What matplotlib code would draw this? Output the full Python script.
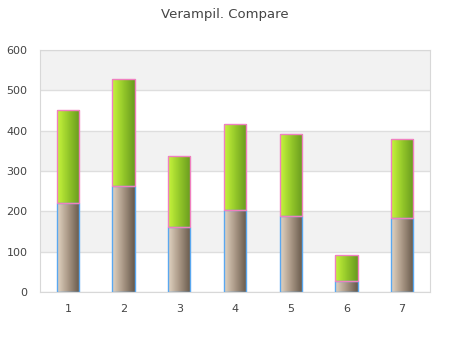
import matplotlib.pyplot as plt
import numpy as np
from matplotlib.colors import LinearSegmentedColormap

# data
categories = ['1', '2', '3', '4', '5', '6', '7']
base = [220, 263, 160, 203, 188, 27, 183]
extra = [230, 266, 178, 213, 203, 64, 197]
yticks = [0, 100, 200, 300, 400, 500, 600]

base_cmap = LinearSegmentedColormap.from_list('base', ['#e2d4c2', '#a89684', '#66584a'])
extra_cmap = LinearSegmentedColormap.from_list('extra', ['#c8f53c', '#94c82a', '#689a1e'])
grad = np.linspace(0, 1, 64).reshape(1, -1)


def gradient_bars(ax, bars, cmap):
    for p in bars:
        x0, y0 = p.get_x(), p.get_y()
        w, h = p.get_width(), p.get_height()
        im = ax.imshow(grad, cmap=cmap, aspect='auto', extent=(x0, x0 + w, y0, y0 + h),
                       zorder=2, interpolation='bicubic')
        im.set_clip_path(p)


fig = plt.figure(figsize=(4.5, 3.5), dpi=100)
ax = fig.add_axes([40 / 450, 58 / 350, 390 / 450, 242 / 350])

# alternating bands
for i in range(len(yticks) - 1):
    if i % 2 == 1:
        ax.axhspan(yticks[i], yticks[i + 1], color='#f2f2f2', zorder=0, lw=0)
for t in yticks:
    ax.axhline(t, color='#dedede', lw=1, zorder=1)

x = np.arange(len(categories))
b1 = ax.bar(x, base, width=0.4, facecolor='none', edgecolor='#5aa8f0', lw=1, zorder=3)
b2 = ax.bar(x, extra, width=0.4, bottom=base, facecolor='none', edgecolor='#f080c0', lw=1, zorder=3)
gradient_bars(ax, b1, base_cmap)
gradient_bars(ax, b2, extra_cmap)

ax.set_xlim(-0.5, len(categories) - 0.5)
ax.set_ylim(0, 600)
ax.set_xticks(x)
ax.set_xticklabels(categories)
ax.set_yticks(yticks)
ax.tick_params(length=0, labelsize=8, colors='#444444', pad=9)
for s in ax.spines.values():
    s.set_color('#d8d8d8')

fig.suptitle('Verampil. Compare', y=0.978, fontsize=9.5, color='#444444')
fig.savefig('out.png', dpi=100)
